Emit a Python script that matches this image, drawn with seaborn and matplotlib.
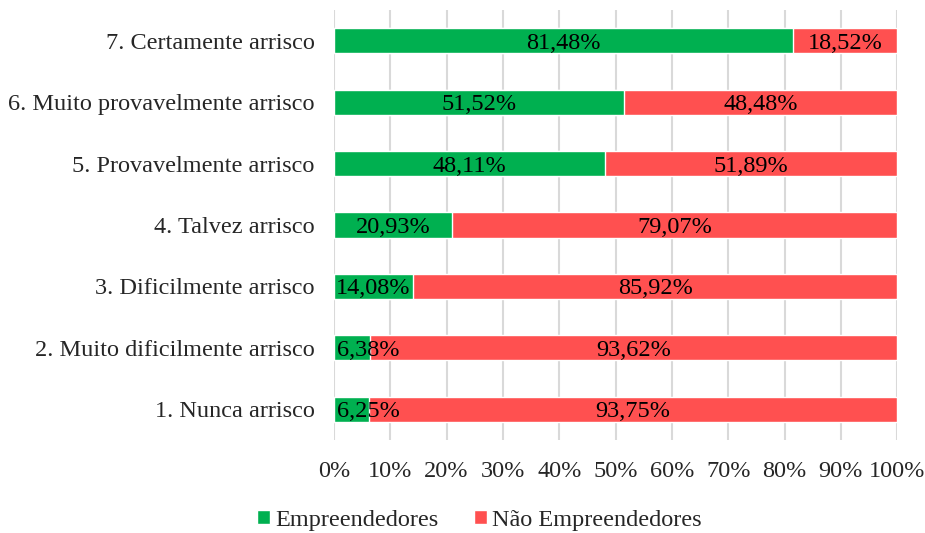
import matplotlib
matplotlib.use("Agg")
import matplotlib.pyplot as plt
import matplotlib.transforms as mtransforms
import seaborn as sns
import pandas as pd
from matplotlib.patches import Patch

categories = [
    "7. Certamente arrisco",
    "6. Muito provavelmente arrisco",
    "5. Provavelmente arrisco",
    "4. Talvez arrisco",
    "3. Dificilmente arrisco",
    "2. Muito dificilmente arrisco",
    "1. Nunca arrisco",
]
empreendedores = [81.48, 51.52, 48.11, 20.93, 14.08, 6.38, 6.25]
nao_empreendedores = [18.52, 48.48, 51.89, 79.07, 85.92, 93.62, 93.75]
x_ticks = [0, 10, 20, 30, 40, 50, 60, 70, 80, 90, 100]

GREEN = "#00B050"
RED = "#FF5050"
FS = 17.5

sns.set_theme(style="white")
plt.rcParams["font.family"] = ["Liberation Serif", "DejaVu Serif"]

df = pd.DataFrame({
    "categoria": categories,
    "emp": empreendedores,
    "nao": nao_empreendedores,
})
df["total"] = df["emp"] + df["nao"]

fig = plt.figure(figsize=(9.25, 5.33), dpi=100)
ax = fig.add_axes([0.361, 0.1745, 0.609, 0.8065])

# stacked: full bar in red, green share drawn on top
sns.barplot(data=df, y="categoria", x="total", color=RED, orient="h",
            width=0.41, ax=ax, saturation=1, zorder=2)
sns.barplot(data=df, y="categoria", x="emp", color=GREEN, orient="h",
            width=0.41, ax=ax, saturation=1, zorder=3)

ax.set_xlim(0, 100)
ax.set_ylim(6.5, -0.5)

def fmt(v):
    return f"{v:.2f}".replace(".", ",") + "%"

# labels centred in each segment; a label wider than its segment
# starts just inside the bar's left end instead
renderer = fig.canvas.get_renderer()
px_per_unit = ax.get_window_extent().width / 100.0
nudge = mtransforms.offset_copy(ax.transData, fig=fig, x=3, y=0, units="dots")
for i, (e, n) in enumerate(zip(empreendedores, nao_empreendedores)):
    t = ax.text(e / 2, i, fmt(e), ha="center", va="center_baseline",
                fontsize=FS, color="black", zorder=5)
    w = t.get_window_extent(renderer).width / px_per_unit
    if w > e:
        t.set_position((0, i))
        t.set_horizontalalignment("left")
        t.set_transform(nudge)
    ax.text(e + n / 2, i, fmt(n), ha="center", va="center_baseline",
            fontsize=FS, color="black", zorder=5)

ax.set_xticks(x_ticks)
ax.set_xticklabels([f"{t}%" for t in x_ticks])
ax.xaxis.grid(True, color="#D9D9D9", linewidth=1.5, zorder=0)
ax.set_axisbelow(True)
for s in ax.spines.values():
    s.set_visible(False)
ax.tick_params(axis="y", length=0, pad=14, labelsize=FS)
ax.tick_params(axis="x", length=0, pad=15, labelsize=FS)
ax.set_xlabel("")
ax.set_ylabel("")

handles = [Patch(facecolor=GREEN, label="Empreendedores"),
           Patch(facecolor=RED, label="Não Empreendedores")]
fig.legend(handles=handles, loc="center", bbox_to_anchor=(0.518, 0.024),
           ncol=2, frameon=False, fontsize=FS, handlelength=0.55,
           handleheight=0.55, handletextpad=0.2, columnspacing=1.45)

fig.savefig("out.png", dpi=100)
